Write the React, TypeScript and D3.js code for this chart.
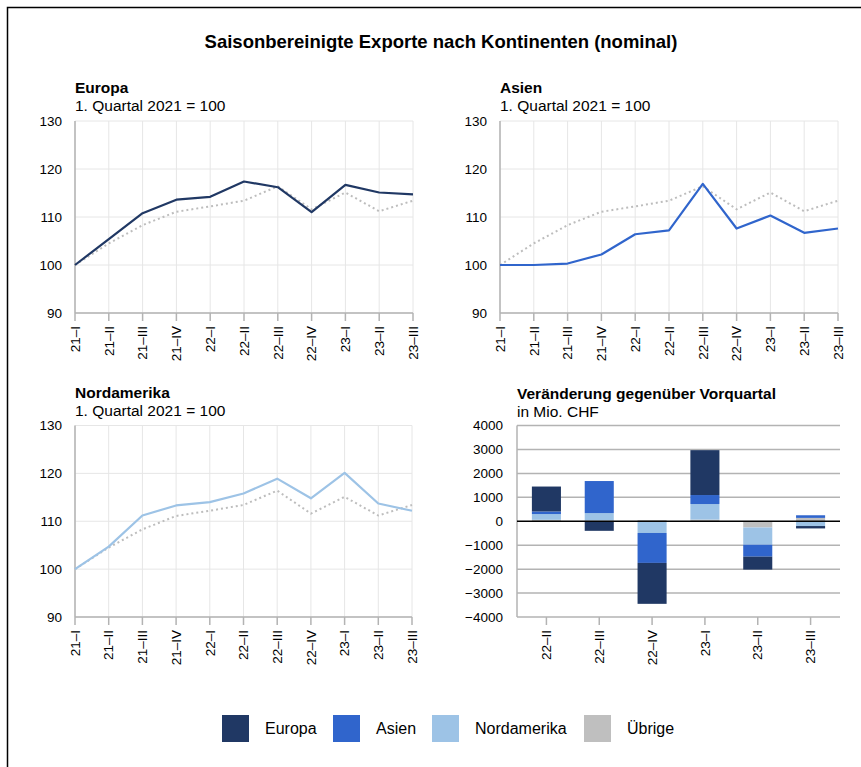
import { useEffect, useRef } from "react";
import * as d3 from "d3";

// quarters for the index charts
const quarters = ["21–I", "21–II", "21–III", "21–IV", "22–I", "22–II", "22–III", "22–IV", "23–I", "23–II", "23–III"];

// index values, 1. Quartal 2021 = 100
const europa = [100, 105.4, 110.8, 113.6, 114.2, 117.4, 116.2, 111.0, 116.7, 115.1, 114.7];
const asien = [100, 100, 100.3, 102.2, 106.4, 107.2, 116.9, 107.6, 110.3, 106.7, 107.6];
const nordamerika = [100, 104.7, 111.2, 113.3, 114.0, 115.8, 118.9, 114.8, 120.1, 113.7, 112.2];
const total = [100, 104.5, 108.3, 111.1, 112.2, 113.4, 116.4, 111.6, 115.1, 111.2, 113.4];
const indexTicks = [90, 100, 110, 120, 130];

// change vs previous quarter, Mio. CHF
const changeQuarters = ["22–II", "22–III", "22–IV", "23–I", "23–II", "23–III"];
const chEuropa = [1040, -400, -1710, 1875, -540, -100];
const chAsien = [110, 1340, -1250, 375, -500, 110];
const chNordamerika = [240, 310, -490, 650, -720, -200];
const chUebrige = [60, 30, 50, 70, -260, 140];
const changeTicks = [-4000, -3000, -2000, -1000, 0, 1000, 2000, 3000, 4000];

const seriesNames = ["Europa", "Asien", "Nordamerika", "Übrige"];
const colors: Record<string, string> = {
    Europa: "#203864",
    Asien: "#3065cc",
    Nordamerika: "#9dc3e6",
    "Übrige": "#bfbfbf",
};

const FONT = "Liberation Sans, Arial, sans-serif";

export default function App() {
    const svgRef = useRef<SVGSVGElement | null>(null);

    useEffect(() => {
        const svg = d3.select(svgRef.current);
        svg.selectAll("*").remove();
        svg.attr("font-family", FONT);

        // outer frame (clipped at right and bottom)
        svg.append("path")
            .attr("d", "M7.5,767V7.5H861")
            .attr("fill", "none")
            .attr("stroke", "#000")
            .attr("stroke-width", 1.5);

        svg.append("text")
            .attr("x", 441)
            .attr("y", 48)
            .attr("text-anchor", "middle")
            .attr("font-size", 18.5)
            .attr("font-weight", "bold")
            .text("Saisonbereinigte Exporte nach Kontinenten (nominal)");

        // one small index line chart
        function lineChart(x0: number, x1: number, y0: number, y1: number, title: string, values: number[], color: string) {
            const g = svg.append("g");
            const xScale = d3.scalePoint().domain(quarters).range([x0, x1]);
            const yScale = d3.scaleLinear().domain([90, 130]).range([y1, y0]);

            g.append("text").attr("x", x0).attr("y", y0 - 28)
                .attr("font-size", 15.5).attr("font-weight", "bold").text(title);
            g.append("text").attr("x", x0).attr("y", y0 - 10)
                .attr("font-size", 15.5).text("1. Quartal 2021 = 100");

            // grid
            g.selectAll(".hg").data(indexTicks).join("line")
                .attr("x1", x0).attr("x2", x1)
                .attr("y1", d => yScale(d)).attr("y2", d => yScale(d))
                .attr("stroke", "#e6e6e6").attr("stroke-width", 1);
            g.selectAll(".vg").data(quarters).join("line")
                .attr("x1", d => xScale(d)!).attr("x2", d => xScale(d)!)
                .attr("y1", y0).attr("y2", y1)
                .attr("stroke", "#e6e6e6").attr("stroke-width", 1);

            // axes
            g.append("line").attr("x1", x0).attr("x2", x0).attr("y1", y0).attr("y2", y1)
                .attr("stroke", "#b3b3b3").attr("stroke-width", 1.5);
            g.append("line").attr("x1", x0).attr("x2", x1).attr("y1", y1).attr("y2", y1)
                .attr("stroke", "#b3b3b3").attr("stroke-width", 1.5);
            g.selectAll(".tk").data(quarters).join("line")
                .attr("x1", d => xScale(d)!).attr("x2", d => xScale(d)!)
                .attr("y1", y1).attr("y2", y1 + 8)
                .attr("stroke", "#b3b3b3").attr("stroke-width", 1.5);

            g.selectAll(".yl").data(indexTicks).join("text")
                .attr("x", x0 - 13).attr("y", d => yScale(d))
                .attr("dy", "0.35em").attr("text-anchor", "end")
                .attr("font-size", 13.5).text(d => d);
            g.selectAll(".xl").data(quarters).join("text")
                .attr("transform", d => `translate(${xScale(d)},${y1 + 13}) rotate(-90)`)
                .attr("dy", "0.35em").attr("text-anchor", "end")
                .attr("font-size", 13.5).text(d => d);

            const lineGen = d3.line<number>()
                .x((d, i) => xScale(quarters[i])!)
                .y(d => yScale(d));

            // total as dotted reference line
            g.append("path").datum(total)
                .attr("fill", "none").attr("stroke", "#bdbdbd")
                .attr("stroke-width", 2).attr("stroke-dasharray", "2,3")
                .attr("d", lineGen);
            g.append("path").datum(values)
                .attr("fill", "none").attr("stroke", color)
                .attr("stroke-width", 2.2).attr("stroke-linejoin", "round")
                .attr("d", lineGen);
        }

        lineChart(75, 413, 121, 313, "Europa", europa, colors.Europa);
        lineChart(500, 838, 121, 313, "Asien", asien, colors.Asien);
        lineChart(75, 412, 425.5, 617, "Nordamerika", nordamerika, colors.Nordamerika);

        // stacked bar chart of changes
        {
            const x0 = 517, x1 = 840, y0 = 425.5, y1 = 617;
            const g = svg.append("g");
            const xScale = d3.scaleBand().domain(changeQuarters).range([520, 837])
                .paddingInner(0.45).paddingOuter(0.225);
            const yScale = d3.scaleLinear().domain([-4000, 4000]).range([y1, y0]);

            g.append("text").attr("x", x0).attr("y", y0 - 27)
                .attr("font-size", 15.5).attr("font-weight", "bold").text("Veränderung gegenüber Vorquartal");
            g.append("text").attr("x", x0).attr("y", y0 - 9)
                .attr("font-size", 15.5).text("in Mio. CHF");

            g.selectAll(".hg").data(changeTicks.filter(t => t !== 0 && t !== -4000)).join("line")
                .attr("x1", x0).attr("x2", x1)
                .attr("y1", d => yScale(d)).attr("y2", d => yScale(d))
                .attr("stroke", "#b3b3b3").attr("stroke-width", 1.5);
            g.append("line").attr("x1", x0).attr("x2", x0).attr("y1", y0).attr("y2", y1)
                .attr("stroke", "#b3b3b3").attr("stroke-width", 1.5);
            g.append("line").attr("x1", x0).attr("x2", x1).attr("y1", y1).attr("y2", y1)
                .attr("stroke", "#b3b3b3").attr("stroke-width", 1.5);
            g.selectAll(".tk").data(changeQuarters).join("line")
                .attr("x1", d => xScale(d)! + xScale.bandwidth() / 2)
                .attr("x2", d => xScale(d)! + xScale.bandwidth() / 2)
                .attr("y1", y1).attr("y2", y1 + 8)
                .attr("stroke", "#b3b3b3").attr("stroke-width", 1.5);

            g.selectAll(".yl").data(changeTicks).join("text")
                .attr("x", x0 - 14).attr("y", d => yScale(d))
                .attr("dy", "0.35em").attr("text-anchor", "end")
                .attr("font-size", 13.5).text(d => d < 0 ? "−" + Math.abs(d) : String(d));
            g.selectAll(".xl").data(changeQuarters).join("text")
                .attr("transform", d => `translate(${xScale(d)! + xScale.bandwidth() / 2},${y1 + 13}) rotate(-90)`)
                .attr("dy", "0.35em").attr("text-anchor", "end")
                .attr("font-size", 13.5).text(d => d);

            const rows = changeQuarters.map((q, i) => ({
                q,
                Europa: chEuropa[i],
                Asien: chAsien[i],
                Nordamerika: chNordamerika[i],
                "Übrige": chUebrige[i],
            }));
            const stack = d3.stack<any>()
                .keys(["Übrige", "Nordamerika", "Asien", "Europa"])
                .offset(d3.stackOffsetDiverging);
            const layers = stack(rows);

            g.selectAll(".layer").data(layers).join("g")
                .attr("fill", d => colors[d.key])
                .selectAll("rect").data(d => d).join("rect")
                .attr("x", d => xScale(d.data.q)!)
                .attr("width", xScale.bandwidth())
                .attr("y", d => yScale(Math.max(d[0], d[1])))
                .attr("height", d => Math.abs(yScale(d[0]) - yScale(d[1])));

            // zero line
            g.append("line").attr("x1", x0).attr("x2", x1)
                .attr("y1", yScale(0)).attr("y2", yScale(0))
                .attr("stroke", "#000").attr("stroke-width", 1.5);
        }

        // legend
        const legendX = [222, 333, 432, 584];
        const lg = svg.append("g");
        seriesNames.forEach((name, i) => {
            lg.append("rect").attr("x", legendX[i]).attr("y", 715)
                .attr("width", 27).attr("height", 27).attr("fill", colors[name]);
            lg.append("text").attr("x", legendX[i] + 43).attr("y", 734)
                .attr("font-size", 16).text(name);
        });
    }, []);

    return (
        <div style={{ position: "absolute", left: 0, top: 0 }}>
            <svg ref={svgRef} width={861} height={767} style={{ display: "block" }} />
        </div>
    );
}
